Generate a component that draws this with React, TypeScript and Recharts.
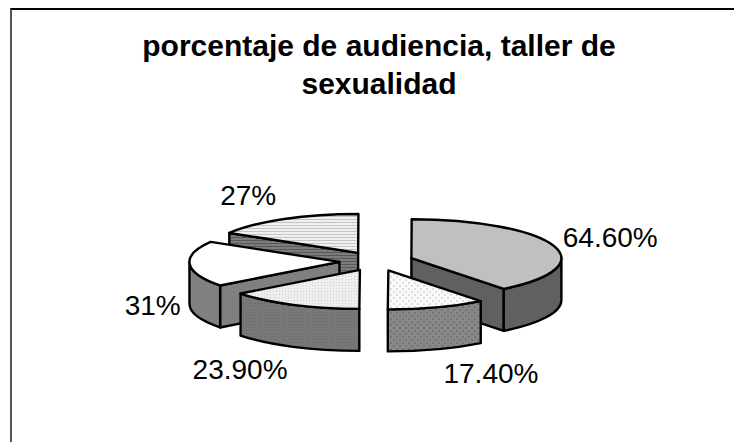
import { PieChart, Pie } from 'recharts';

// drawn back to front so nearer slices paint over farther ones
const categories = ['a', 'e', 'd', 'c', 'b'];
const values = [64.6, 27, 31, 23.9, 17.4];
const valueLabels = ['64.60%', '27%', '31%', '23.90%', '17.40%'];

const TILT = 39 / 150;
const DEPTH = 42;
const EXPLODE = 37;

const tops = ['#c0c0c0', 'url(#hstripe)', '#ffffff', 'url(#fineDots)', 'url(#bigDots)'];
const walls = ['#606060', 'url(#hstripeDark)', '#808080', 'url(#fineDark)', 'url(#bigDark)'];
const labelOffsets = [[57, -8], [-36, -24], [-37, 41], [-53, 65], [54, 66]];

const data = categories.map((name, i) => ({ name, value: values[i], label: valueLabels[i], idx: i }));

const rad = (d: number) => (d * Math.PI) / 180;

function SliceShape(props: any) {
  const { cx, cy, outerRadius: r, startAngle, endAngle } = props;
  const idx = props.idx ?? props.payload?.idx;
  // angles clockwise from 12 o'clock
  let a0 = 90 - endAngle;
  let a1 = 90 - startAngle;
  if (a0 < -0.01) { a0 += 360; a1 += 360; }
  const mid = (a0 + a1) / 2;
  const ox = cx + EXPLODE * Math.sin(rad(mid));
  const oy = cy - EXPLODE * TILT * Math.cos(rad(mid));
  const ry = r * TILT;
  const pt = (a: number, dz = 0) =>
    `${ox + r * Math.sin(rad(a))} ${oy - ry * Math.cos(rad(a)) + dz}`;
  const top = `M${ox} ${oy} L${pt(a0)} A${r} ${ry} 0 ${a1 - a0 > 180 ? 1 : 0} 1 ${pt(a1)} Z`;

  const faces: string[] = [];
  // radial cut faces that look towards the viewer
  [[a0, a0 - 90], [a1, a1 + 90]].forEach(([a, n]) => {
    if (Math.cos(rad(n)) < -0.01) {
      faces.push(`M${ox} ${oy} L${pt(a)} L${pt(a, DEPTH)} L${ox} ${oy + DEPTH} Z`);
    }
  });
  // outer rim, front half only
  const w0 = Math.max(a0, 90);
  const w1 = Math.min(a1, 270);
  if (w1 > w0) {
    faces.push(`M${pt(w0)} A${r} ${ry} 0 0 1 ${pt(w1)} L${pt(w1, DEPTH)} A${r} ${ry} 0 0 0 ${pt(w0, DEPTH)} Z`);
  }
  return (
    <g stroke="#000" strokeWidth={2.4} strokeLinejoin="round">
      {faces.map((d, i) => <path key={i} d={d} fill={walls[idx]} />)}
      <path d={top} fill={tops[idx]} />
    </g>
  );
}

function SliceLabel(props: any) {
  const { cx, cy, outerRadius: r, midAngle, index } = props;
  const m = 90 - midAngle;
  const dirX = Math.sin(rad(m));
  const dirY = Math.cos(rad(m));
  const x = cx + (EXPLODE + r) * dirX + labelOffsets[index][0];
  const y = cy - (EXPLODE + r) * TILT * dirY + labelOffsets[index][1];
  return (
    <text x={x} y={y} textAnchor="middle" dominantBaseline="central" fontSize={28}
      fontFamily="Liberation Sans" fill="#000">
      {valueLabels[index]}
    </text>
  );
}

export default function App() {
  return (
    <div style={{ position: 'absolute', left: 0, top: 0, width: 734, height: 442, background: '#fff', overflow: 'hidden' }}>
      <div style={{ position: 'absolute', left: 10, top: 8, width: 724, height: 434, borderTop: '2px solid #000', borderLeft: '2px solid #555', boxSizing: 'border-box' }} />
      <div style={{ position: 'absolute', left: 0, top: 27, width: 758, textAlign: 'center', fontFamily: 'Liberation Sans', fontWeight: 700, fontSize: 30, lineHeight: '38px', color: '#000' }}>
        porcentaje de audiencia, taller de<br />sexualidad
      </div>
      <div style={{ position: 'absolute', left: 0, top: 0 }}>
        <PieChart width={734} height={442} margin={{ top: 0, right: 0, bottom: 0, left: 0 }}>
          <defs>
            <pattern id="hstripe" width="4" height="3" patternUnits="userSpaceOnUse">
              <rect width="4" height="3" fill="#f0f0f0" />
              <rect width="4" height="1" fill="#c4c4c4" />
            </pattern>
            <pattern id="hstripeDark" width="4" height="3" patternUnits="userSpaceOnUse">
              <rect width="4" height="3" fill="#7c7c7c" />
              <rect width="4" height="1" fill="#585858" />
            </pattern>
            <pattern id="fineDots" width="3" height="3" patternUnits="userSpaceOnUse">
              <rect width="3" height="3" fill="#eeeeee" />
              <rect width="1" height="1" fill="#d0d0d0" />
            </pattern>
            <pattern id="fineDark" width="3" height="3" patternUnits="userSpaceOnUse">
              <rect width="3" height="3" fill="#787878" />
              <rect width="1" height="1" fill="#686868" />
            </pattern>
            <pattern id="bigDots" width="6" height="6" patternUnits="userSpaceOnUse">
              <rect width="6" height="6" fill="#fafafa" />
              <rect width="2" height="2" fill="#dcdcdc" />
              <rect x="3" y="3" width="2" height="2" fill="#dcdcdc" />
            </pattern>
            <pattern id="bigDark" width="6" height="6" patternUnits="userSpaceOnUse">
              <rect width="6" height="6" fill="#888888" />
              <rect width="2" height="2" fill="#747474" />
              <rect x="3" y="3" width="2" height="2" fill="#747474" />
            </pattern>
          </defs>
          <Pie
            data={data}
            dataKey="value"
            nameKey="name"
            cx={376.4}
            cy={261.3}
            outerRadius={150}
            innerRadius={0}
            startAngle={-52}
            endAngle={308}
            paddingAngle={0}
            stroke="none"
            isAnimationActive={false}
            labelLine={false}
            label={SliceLabel}
            shape={SliceShape}
          />
        </PieChart>
      </div>
    </div>
  );
}
